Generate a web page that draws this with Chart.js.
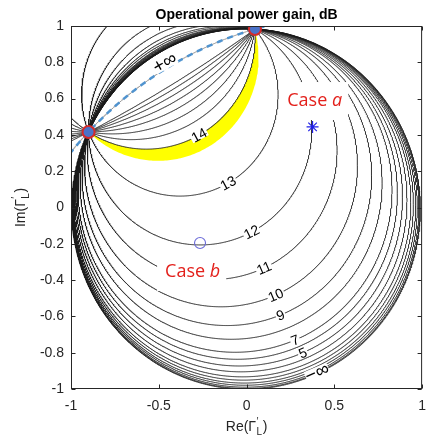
<!DOCTYPE html>
<html lang="en">
<head>
<meta charset="UTF-8">
<title>Operational power gain, dB</title>
<script src="https://cdn.jsdelivr.net/npm/chart.js"></script>
<style>
  body { margin: 0; background: #fff; }
  canvas { display: block; }
</style>
</head>
<body>
<canvas id="gainChart" width="435" height="440"></canvas>
<script>
// the two points every gain circle goes through (big markers)
const pinX = [-0.900, 0.048];
const pinY = [0.416, 0.983];

// one point read on each drawn contour, highest gain first, last one is the edge of the disk
const contourX = [-0.416, -0.403, -0.388, -0.370, -0.349, -0.323, -0.292, -0.271, -0.105, 0.028, 0.099, 0.166, 0.193, 0.354, 0.276, 0.415, 0.320, 0.454, 0.469, 0.479, 0.488, 0.495, 0.501, 0.505, 0.507];
const contourY = [0.683, 0.661, 0.636, 0.606, 0.571, 0.528, 0.475, 0.399, 0.135, -0.135, -0.333, -0.482, -0.592, -0.604, -0.730, -0.707, -0.800, -0.771, -0.797, -0.814, -0.829, -0.840, -0.850, -0.857, -0.861];

// inline contour labels, centred on their contour
const labelText = ['14', '13', '12', '11', '10', '9', '7', '5'];
const labelX = [-0.271, -0.105, 0.028, 0.099, 0.166, 0.193, 0.276, 0.320];
const labelY = [0.399, 0.135, -0.135, -0.333, -0.482, -0.592, -0.730, -0.800];

// +inf circle (dashed) and the lower edge of the yellow band, one point each
const infPoint = [-0.354, 0.824];
const bandPoint = [-0.287, 0.300];

// infinity labels
const infText = ['+\u221E', '\u2212\u221E'];
const infLabelX = [-0.464, 0.403];
const infLabelY = [0.796, -0.912];

// case a (star) and case b (open circle)
const caseX = [0.376, -0.265];
const caseY = [0.444, -0.196];
const caseName = ['a', 'b'];
const caseTextX = [0.232, -0.464];
const caseTextY = [0.559, -0.383];

const xTicks = [-1, -0.5, 0, 0.5, 1];
const yTicks = [-1, -0.8, -0.6, -0.4, -0.2, 0, 0.2, 0.4, 0.6, 0.8, 1];

const FONT = '"Liberation Sans", Arial, Helvetica, sans-serif';
const CASE_FONT = '"Open Sans", "Noto Sans", sans-serif';

function circleThrough(ax, ay, bx, by, cx, cy) {
  const d = 2 * (ax * (by - cy) + bx * (cy - ay) + cx * (ay - by));
  const a2 = ax * ax + ay * ay, b2 = bx * bx + by * by, c2 = cx * cx + cy * cy;
  const ux = (a2 * (by - cy) + b2 * (cy - ay) + c2 * (ay - by)) / d;
  const uy = (a2 * (cx - bx) + b2 * (ax - cx) + c2 * (bx - ax)) / d;
  return { x: ux, y: uy, r: Math.hypot(ax - ux, ay - uy) };
}

function pinCircle(px, py) {
  return circleThrough(pinX[0], pinY[0], pinX[1], pinY[1], px, py);
}

// full circle, only the part near the axes box is kept
function circlePoints(c) {
  const n = Math.min(40000, Math.max(600, Math.ceil(2 * Math.PI * c.r / 0.004)));
  const pts = [];
  let prevIn = false;
  for (let i = 0; i <= n; i++) {
    const t = 2 * Math.PI * i / n;
    const x = c.x + c.r * Math.cos(t), y = c.y + c.r * Math.sin(t);
    const inside = Math.abs(x) <= 1.06 && Math.abs(y) <= 1.06;
    if (inside) pts.push({ x, y });
    else if (prevIn) pts.push({ x: null, y: null });
    prevIn = inside;
  }
  return pts;
}

// arc from p to q on the lower-right side of the pin chord
function lowerArc(c, p, q) {
  const a0 = Math.atan2(p[1] - c.y, p[0] - c.x);
  const a1 = Math.atan2(q[1] - c.y, q[0] - c.x);
  let delta = a1 - a0;
  while (delta < 0) delta += 2 * Math.PI;
  const mid = a0 + delta / 2;
  const mx = c.x + c.r * Math.cos(mid), my = c.y + c.r * Math.sin(mid);
  const cross = (pinX[1] - pinX[0]) * (my - pinY[0]) - (pinY[1] - pinY[0]) * (mx - pinX[0]);
  if (cross > 0) delta -= 2 * Math.PI;
  const pts = [];
  for (let i = 0; i <= 150; i++) {
    const t = a0 + delta * i / 150;
    pts.push({ x: c.x + c.r * Math.cos(t), y: c.y + c.r * Math.sin(t) });
  }
  return pts;
}

const P1 = [pinX[0], pinY[0]], P2 = [pinX[1], pinY[1]];
const c14 = pinCircle(labelX[0], labelY[0]);
const cBand = pinCircle(bandPoint[0], bandPoint[1]);
const cInf = pinCircle(infPoint[0], infPoint[1]);
const yellowShape = lowerArc(c14, P1, P2).concat(lowerArc(cBand, P2, P1));

const contourSets = contourX.map((vx, i) => ({
  data: circlePoints(pinCircle(vx, contourY[i])),
  showLine: true,
  borderColor: '#1c1c1c',
  borderWidth: 0.9,
  pointRadius: 0,
  tension: 0,
  order: 3
}));

function tangentAngle(cx, cy, x, y) {
  let ang = Math.atan2(y - cy, x - cx) + Math.PI / 2;
  while (ang > Math.PI / 2) ang -= Math.PI;
  while (ang <= -Math.PI / 2) ang += Math.PI;
  return ang;
}

function gammaLabel(ctx, prefix, x, y) {
  const big = '14px ' + FONT, small = '10px ' + FONT;
  ctx.font = big;
  const w1 = ctx.measureText(prefix + '(\u0393').width;
  ctx.font = small;
  const w2 = Math.max(ctx.measureText('L').width, ctx.measureText('\u2032').width);
  ctx.font = big;
  const w3 = ctx.measureText(')').width;
  let cx = x - (w1 + w2 + 1 + w3) / 2;
  ctx.textAlign = 'left';
  ctx.textBaseline = 'alphabetic';
  ctx.fillText(prefix + '(\u0393', cx, y);
  cx += w1;
  ctx.font = small;
  ctx.fillText('\u2032', cx + 0.5, y - 6);
  ctx.fillText('L', cx + 0.5, y + 4);
  cx += w2 + 1;
  ctx.font = big;
  ctx.fillText(')', cx, y);
}

const decor = {
  id: 'decor',
  beforeDraw(chart) {
    const ctx = chart.ctx;
    ctx.save();
    ctx.fillStyle = '#fff';
    ctx.fillRect(0, 0, chart.width, chart.height);
    ctx.restore();
  },
  afterDatasetsDraw(chart) {
    const { ctx, chartArea: a, scales: { x, y } } = chart;
    const px = v => x.getPixelForValue(v), py = v => y.getPixelForValue(v);
    ctx.save();
    ctx.beginPath();
    ctx.rect(a.left, a.top, a.right - a.left, a.bottom - a.top);
    ctx.clip();

    // inline contour labels
    ctx.font = '14px ' + FONT;
    ctx.textAlign = 'center';
    ctx.textBaseline = 'middle';
    labelText.forEach((t, i) => {
      const c = pinCircle(labelX[i], labelY[i]);
      const lx = px(labelX[i]), ly = py(labelY[i]);
      const ang = tangentAngle(px(c.x), py(c.y), lx, ly);
      const w = ctx.measureText(t).width;
      ctx.save();
      ctx.translate(lx, ly);
      ctx.rotate(ang);
      ctx.fillStyle = '#fff';
      ctx.fillRect(-w / 2 - 1, -4.5, w + 2, 9);
      ctx.fillStyle = '#000';
      ctx.fillText(t, 0, 1);
      ctx.restore();
    });

    // infinity labels, turned along the +inf circle and the disk edge
    ctx.font = '19px ' + FONT;
    infText.forEach((t, i) => {
      const lx = px(infLabelX[i]), ly = py(infLabelY[i]);
      const c = i === 0 ? cInf : { x: 0, y: 0 };
      const ang = tangentAngle(px(c.x), py(c.y), lx, ly);
      const w = ctx.measureText(t).width;
      ctx.save();
      ctx.translate(lx, ly);
      ctx.rotate(ang);
      ctx.fillStyle = '#fff';
      ctx.fillRect(-w / 2, -6, w, 12);
      ctx.fillStyle = '#000';
      ctx.fillText(t, 0, 0);
      ctx.restore();
    });

    // case texts on white boxes
    caseName.forEach((nm, i) => {
      const tx = px(caseTextX[i]), ty = py(caseTextY[i]);
      ctx.font = '18px ' + CASE_FONT;
      const w1 = ctx.measureText('Case ').width;
      ctx.font = 'italic 18px ' + CASE_FONT;
      const w2 = ctx.measureText(nm).width;
      ctx.fillStyle = '#fff';
      ctx.fillRect(tx - 8, ty - 24, w1 + w2 + 14, 38);
      ctx.fillStyle = '#e3201b';
      ctx.textAlign = 'left';
      ctx.textBaseline = 'alphabetic';
      ctx.font = '18px ' + CASE_FONT;
      ctx.fillText('Case ', tx, ty);
      ctx.font = 'italic 18px ' + CASE_FONT;
      ctx.fillText(nm, tx + w1, ty);
    });
    ctx.restore();

    // axes box with inward ticks
    ctx.save();
    ctx.strokeStyle = '#262626';
    ctx.lineWidth = 1;
    const L = a.left + 0.5, R = a.right - 0.5, T = a.top + 0.5, B = a.bottom - 0.5;
    ctx.strokeRect(L, T, R - L, B - T);
    ctx.beginPath();
    xTicks.forEach(v => {
      const p = Math.round(px(v)) + 0.5;
      ctx.moveTo(p, B); ctx.lineTo(p, B - 4);
      ctx.moveTo(p, T); ctx.lineTo(p, T + 4);
    });
    yTicks.forEach(v => {
      const p = Math.round(py(v)) + 0.5;
      ctx.moveTo(L, p); ctx.lineTo(L + 4, p);
      ctx.moveTo(R, p); ctx.lineTo(R - 4, p);
    });
    ctx.stroke();

    // title and axis labels
    ctx.fillStyle = '#000';
    ctx.font = 'bold 14px ' + FONT;
    ctx.textAlign = 'center';
    ctx.textBaseline = 'alphabetic';
    ctx.fillText('Operational power gain, dB', (a.left + a.right) / 2, 19);
    ctx.fillStyle = '#262626';
    gammaLabel(ctx, 'Re', (a.left + a.right) / 2, 431);
    ctx.save();
    ctx.translate(25, (a.top + a.bottom) / 2);
    ctx.rotate(-Math.PI / 2);
    gammaLabel(ctx, 'Im', 0, 0);
    ctx.restore();
    ctx.restore();
  }
};

new Chart(document.getElementById('gainChart'), {
  type: 'scatter',
  data: {
    datasets: [
      {
        data: pinX.map((v, i) => ({ x: v, y: pinY[i] })),
        pointRadius: 6,
        pointBackgroundColor: '#4a72c8',
        pointBorderColor: '#d42a2a',
        pointBorderWidth: 2,
        order: 0
      },
      {
        data: [{ x: caseX[0], y: caseY[0] }],
        pointStyle: 'star',
        pointRadius: 6,
        pointBorderColor: '#2020e6',
        pointBorderWidth: 1.2,
        order: 0
      },
      {
        data: [{ x: caseX[1], y: caseY[1] }],
        pointStyle: 'circle',
        pointRadius: 5.5,
        pointBackgroundColor: 'rgba(0,0,0,0)',
        pointBorderColor: '#6a6ad8',
        pointBorderWidth: 1.1,
        order: 0
      },
      {
        data: circlePoints(cInf),
        showLine: true,
        borderColor: '#4f93cf',
        borderWidth: 2.5,
        borderDash: [6, 5],
        pointRadius: 0,
        order: 1
      },
      {
        data: circlePoints(cInf),
        showLine: true,
        borderColor: '#8a8a8a',
        borderWidth: 0.8,
        pointRadius: 0,
        order: 2
      },
      ...contourSets,
      {
        data: yellowShape,
        showLine: true,
        fill: 'shape',
        backgroundColor: '#ffff00',
        borderWidth: 0,
        pointRadius: 0,
        order: 4
      }
    ]
  },
  options: {
    responsive: false,
    animation: false,
    devicePixelRatio: 1,
    events: [],
    layout: { padding: { top: 26, right: 2, left: 0, bottom: 0 } },
    plugins: { legend: { display: false }, tooltip: { enabled: false } },
    scales: {
      x: {
        type: 'linear', min: -1, max: 1,
        afterBuildTicks: s => { s.ticks = xTicks.map(v => ({ value: v })); },
        afterFit: s => { s.height = 51; },
        grid: { display: false, drawTicks: false },
        border: { display: false },
        ticks: { font: { family: FONT, size: 14 }, color: '#262626', padding: 9, maxRotation: 0, autoSkip: false, callback: v => String(v) }
      },
      y: {
        type: 'linear', min: -1, max: 1,
        afterBuildTicks: s => { s.ticks = yTicks.map(v => ({ value: v })); },
        afterFit: s => { s.width = 71; },
        grid: { display: false, drawTicks: false },
        border: { display: false },
        ticks: { font: { family: FONT, size: 14 }, color: '#262626', padding: 7, autoSkip: false, callback: v => String(v) }
      }
    }
  },
  plugins: [decor]
});
</script>
</body>
</html>
